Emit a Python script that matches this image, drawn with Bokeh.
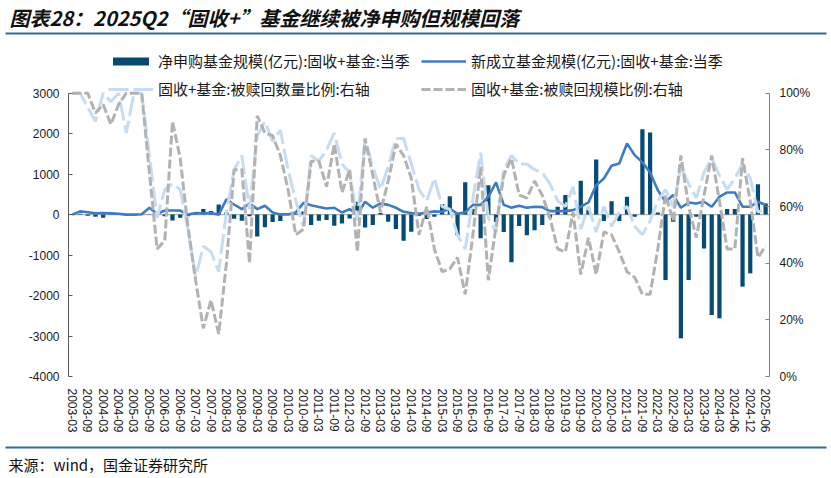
from bokeh.plotting import figure
from bokeh.models import (ColumnDataSource, Range1d, LinearAxis, FixedTicker,
                          Legend, LegendItem, Label, BoxAnnotation, NumeralTickFormatter)
from bokeh.embed import file_html
from bokeh.resources import INLINE

categories = [
    "2003-03", "2003-06", "2003-09", "2003-12", "2004-03", "2004-06", "2004-09", "2004-12",
    "2005-03", "2005-06", "2005-09", "2005-12", "2006-03", "2006-06", "2006-09", "2006-12",
    "2007-03", "2007-06", "2007-09", "2007-12", "2008-03", "2008-06", "2008-09", "2008-12",
    "2009-03", "2009-06", "2009-09", "2009-12", "2010-03", "2010-06", "2010-09", "2010-12",
    "2011-03", "2011-06", "2011-09", "2011-12", "2012-03", "2012-06", "2012-09", "2012-12",
    "2013-03", "2013-06", "2013-09", "2013-12", "2014-03", "2014-06", "2014-09", "2014-12",
    "2015-03", "2015-06", "2015-09", "2015-12", "2016-03", "2016-06", "2016-09", "2016-12",
    "2017-03", "2017-06", "2017-09", "2017-12", "2018-03", "2018-06", "2018-09", "2018-12",
    "2019-03", "2019-06", "2019-09", "2019-12", "2020-03", "2020-06", "2020-09", "2020-12",
    "2021-03", "2021-06", "2021-09", "2021-12", "2022-03", "2022-06", "2022-09", "2022-12",
    "2023-03", "2023-06", "2023-09", "2023-12", "2024-03", "2024-04", "2024-06", "2024-09",
    "2024-12", "2025-03", "2025-06",
]

tick_labels = [
    "2003-03", "2003-09", "2004-03", "2004-09", "2005-03", "2005-09", "2006-03", "2006-09",
    "2007-03", "2007-09", "2008-03", "2008-09", "2009-03", "2009-09", "2010-03", "2010-09",
    "2011-03", "2011-09", "2012-03", "2012-09", "2013-03", "2013-09", "2014-03", "2014-09",
    "2015-03", "2015-09", "2016-03", "2016-09", "2017-03", "2017-09", "2018-03", "2018-09",
    "2019-03", "2019-09", "2020-03", "2020-09", "2021-03", "2021-09", "2022-03", "2022-09",
    "2023-03", "2023-09", "2024-03", "2024-06", "2024-12", "2025-06",
]

# 净申购基金规模(亿元)
net_subscription = [
    10, 20, -30, -50, -80, 20, 10, -20, 10, 0,
    10, 20, -40, -145, -80, -40, 40, 140, 87, 250,
    50, -100, -150, -40, -540, -310, -185, -160, 10, 20,
    80, -258, -152, -135, -275, -218, -94, 318, -317, -258,
    40, -176, -358, -645, -423, -30, -111, -52, 260, 455,
    -510, 800, 136, -585, 725, -180, -428, -1177, -283, -510,
    -386, -258, -77, 195, 482, -30, 837, 153, 1363, -160,
    333, -160, 442, -52, 2111, 2030, 50, -1617, -175, -3057,
    -1617, -52, -835, -2481, -2563, 136, 136, -1780, -1452, 753,
    276,
]

# 新成立基金规模(亿元)
new_fund_scale = [
    0, 80, 60, 30, 40, 30, 20, 0, 0, 10,
    170, 20, 100, 100, 100, 0, 40, 30, 40, 0,
    375, 250, 136, 276, 136, 219, 52, 5, 5, 50,
    290, 230, 190, 150, 170, 52, 136, 0, 318, 170,
    276, 240, 170, 70, 40, 20, 50, 80, 70, 150,
    20, 60, 240, 240, 440, 795, 240, 170, 219, 170,
    195, 185, 87, 87, 87, 110, 195, 300, 728, 893,
    1207, 1264, 1758, 1470, 1290, 1042, 600, 318, 482, 170,
    300, 276, 318, 195, 440, 548, 548, 195, 195, 318,
    240,
]

# 被赎回数量比例 (%)
redeem_count_ratio = [
    100, 100, 95, 90, 100, 97, 100, 86, 100, 100,
    78, 56, 66, 68, 66, 52, 35, 46, 44, 37,
    58, 73, 78, 59, 85, 90, 83, 87, 73, 62,
    53, 78, 76, 80, 86, 75, 72, 55, 84, 74,
    66, 74, 84, 84, 75, 66, 62, 70, 60, 59,
    50, 45, 63, 79, 56, 51, 73, 78, 75, 75,
    73, 72, 68, 62, 60, 67, 52, 60, 51, 60,
    53, 58, 60, 53, 50, 55, 62, 66, 60, 74,
    68, 63, 72, 77, 71, 66, 70, 75, 70, 58,
    59,
]

# 被赎回规模比例 (%)
redeem_scale_ratio = [
    100, 100, 100, 93, 96, 89, 96, 100, 100, 100,
    72, 45, 48, 90, 77, 53, 34, 17, 27, 15,
    40, 73, 73, 40, 92, 86, 85, 78, 66, 50,
    52, 76, 76, 67, 82, 65, 73, 44, 84, 71,
    58, 69, 82, 78, 70, 50, 60, 45, 37, 38,
    42, 29, 50, 74, 34, 53, 71, 77, 64, 63,
    69, 64, 56, 45, 44, 58, 36, 49, 36, 51,
    50, 44, 37, 35, 29, 29, 45, 64, 55, 78,
    60, 49, 64, 78, 62, 45, 45, 77, 62, 42,
    46,
]

left_ticks = [-4000, -3000, -2000, -1000, 0, 1000, 2000, 3000]
right_ticks = [0, 0.2, 0.4, 0.6, 0.8, 1.0]

legend_labels = [
    "净申购基金规模(亿元):固收+基金:当季",
    "新成立基金规模(亿元):固收+基金:当季",
    "固收+基金:被赎回数量比例:右轴",
    "固收+基金:被赎回规模比例:右轴",
]
title_text = "图表28：2025Q2“固收+”基金继续被净申购但规模回落"
source_text = "来源：wind，国金证券研究所"

CJK = "Noto Sans CJK SC"
LAT = "Liberation Sans"
RULE = "#336e90"
W, H = 831, 478

# plot-area geometry in page pixels (the frame spans the whole canvas)
AX_L, AX_R, AX_T, AX_B = 68, 769, 92.7, 376

n = len(categories)
idx = list(range(n))
src = ColumnDataSource(dict(
    x=idx,
    net=net_subscription,
    new=new_fund_scale,
    cnt=[v / 100 for v in redeem_count_ratio],
    scl=[v / 100 for v in redeem_scale_ratio],
))

x_lo, x_hi = -0.5, n - 0.5
px_x = (AX_R - AX_L) / (x_hi - x_lo)
y_lo, y_hi = left_ticks[0], left_ticks[-1]
px_y = (AX_B - AX_T) / (y_hi - y_lo)
px_p = (AX_B - AX_T) / 1.0

p = figure(width=W, height=H,
           x_range=Range1d(x_lo - AX_L / px_x, x_hi + (W - AX_R) / px_x),
           y_range=Range1d(y_lo - (H - AX_B) / px_y, y_hi + AX_T / px_y),
           output_backend="svg", toolbar_location=None, min_border=0,
           x_axis_location=None, y_axis_location=None)
p.outline_line_color = None
p.xgrid.visible = False
p.ygrid.visible = False
p.extra_y_ranges = {"pct": Range1d(0 - (H - AX_B) / px_p, 1 + AX_T / px_p)}

# zero line of the left axis
p.add_layout(BoxAnnotation(left=x_lo, right=x_hi, bottom=0, top=0, fill_alpha=0,
                           line_color="black", line_width=1.2, level="underlay"))

r_bar = p.vbar(x="x", top="net", bottom=0, width=0.55, source=src, fill_color="#064b74", line_color=None)
r_new = p.line(x="x", y="new", source=src, line_color="#3d7cc1", line_width=2.6)
r_cnt = p.line(x="x", y="cnt", source=src, y_range_name="pct", line_color="#c7dcf0", line_width=3,
               line_dash="20 5")
r_scl = p.line(x="x", y="scl", source=src, y_range_name="pct", line_color="#b2b2b2", line_width=3,
               line_dash="9 3")

# bottom category axis
tick_idx = [categories.index(t) for t in tick_labels]
xa = LinearAxis(ticker=FixedTicker(ticks=tick_idx), fixed_location=y_lo)
xa.major_label_overrides = {i: categories[i] for i in tick_idx}
xa.major_label_orientation = "vertical"
xa.axis_line_color = None
xa.major_tick_line_color = None
xa.minor_tick_line_color = None
xa.major_label_standoff = 6
xa.major_label_text_font = LAT
xa.major_label_text_font_size = "12px"
xa.major_label_text_color = "#1a1a1a"
p.add_layout(xa, "below")

# left value axis
ya = LinearAxis(ticker=FixedTicker(ticks=left_ticks), fixed_location=x_lo, bounds=(y_lo, y_hi))
ya.major_label_overrides = {t: str(t) for t in left_ticks}
ya.axis_line_color = "#595959"
ya.major_tick_line_color = "#595959"
ya.major_tick_in = 4
ya.major_tick_out = 0
ya.minor_tick_line_color = None
ya.major_label_standoff = 9
ya.major_label_text_font = LAT
ya.major_label_text_font_size = "12px"
ya.major_label_text_color = "#1a1a1a"
p.add_layout(ya, "left")

# right percentage axis
yr = LinearAxis(y_range_name="pct", ticker=FixedTicker(ticks=right_ticks),
                formatter=NumeralTickFormatter(format="0%"), bounds=(0, 1), fixed_location=x_hi)
yr.axis_line_color = "#808080"
yr.major_tick_line_color = "#808080"
yr.major_tick_in = 4
yr.major_tick_out = 0
yr.minor_tick_line_color = None
yr.major_label_standoff = 10
yr.major_label_text_font = LAT
yr.major_label_text_font_size = "12px"
yr.major_label_text_color = "#1a1a1a"
p.add_layout(yr, "right")


def add_legend(renderer, label, lx, ly):
    lg = Legend(items=[LegendItem(label=label, renderers=[renderer])], location=(lx, ly),
                orientation="horizontal", padding=0, margin=0, spacing=0,
                glyph_width=45, glyph_height=10, label_standoff=5, label_height=20,
                label_text_font=CJK, label_text_font_size="15px", label_text_color="#1a1a1a",
                background_fill_alpha=0, border_line_color=None)
    p.add_layout(lg)


# legend rows centred at page y 61 and 89 (location = bottom-left, measured from canvas bottom)
add_legend(r_bar, legend_labels[0], 108, H - 71)
add_legend(r_new, legend_labels[1], 421, H - 71)
add_legend(r_cnt, legend_labels[2], 108, H - 99)
add_legend(r_scl, legend_labels[3], 421, H - 99)

# title, rules and source
p.add_layout(Label(x=9, y=H - 17, x_units="screen", y_units="screen", text=title_text,
                   text_font=CJK, text_font_size="20px", text_font_style="bold italic",
                   text_color="#111111", text_baseline="middle"))
for y_rule in (33, 447):
    p.add_layout(BoxAnnotation(left=5, right=826, top=H - y_rule + 1, bottom=H - y_rule - 1,
                               left_units="screen", right_units="screen", top_units="screen",
                               bottom_units="screen", fill_color=RULE, fill_alpha=1, line_color=None))
p.add_layout(Label(x=8, y=H - 464, x_units="screen", y_units="screen", text=source_text,
                   text_font=CJK, text_font_size="15px", text_color="#111111",
                   text_baseline="middle"))

open("out.html", "w").write(file_html(p, INLINE))
